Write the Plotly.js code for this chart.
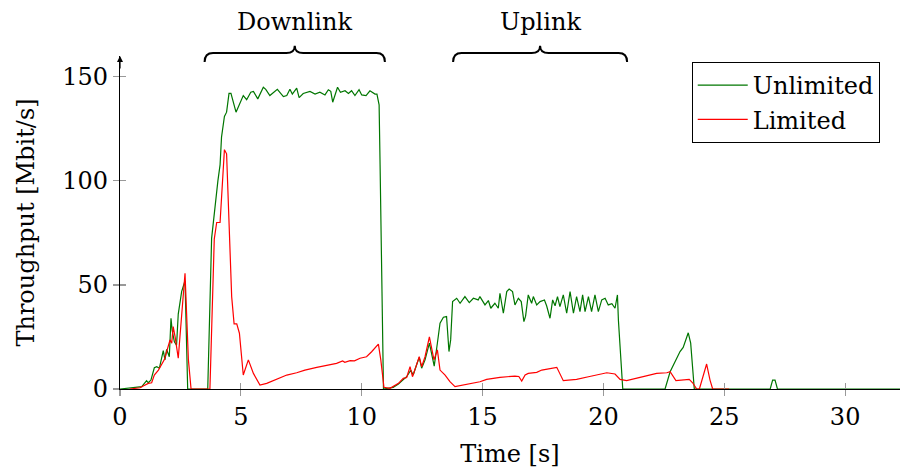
<!DOCTYPE html>
<html>
<head>
<meta charset="utf-8">
<script src="https://cdn.plot.ly/plotly-3.0.1.min.js"></script>
<style>html,body{margin:0;padding:0;background:#fff;}#chart{width:900px;height:470px;}</style>
</head>
<body>
<div id="chart"></div>
<script>
// ---- data ----
const seriesNames = ["Unlimited", "Limited"];

const unlimitedTime = [0, 0.62, 0.9, 1.1, 1.17, 1.28, 1.42, 1.52, 1.63, 1.79, 1.86, 1.93, 2.04, 2.11, 2.16, 2.25, 2.34, 2.41, 2.48, 2.55, 2.69, 2.8,
  3.63, 3.79, 4.05, 4.14, 4.2, 4.32, 4.41, 4.51, 4.59, 4.8, 5.1, 5.24, 5.41, 5.52, 5.7, 5.93, 6.03, 6.2, 6.51, 6.76, 6.9, 7.03, 7.13, 7.31, 7.41, 7.58, 7.86,
  8.07, 8.27, 8.48, 8.62, 8.72, 8.8, 9.0, 9.12, 9.31, 9.45, 9.58, 9.72, 9.89, 10.0, 10.18, 10.34, 10.45, 10.55, 10.63, 10.72, 10.76, 10.9,
  11.3, 11.52, 11.7, 11.86, 12.03, 12.13, 12.3, 12.38, 12.48, 12.62, 12.8, 12.9, 13.0, 13.13, 13.24, 13.38, 13.51, 13.61, 13.68, 13.76, 13.93,
  14.07, 14.27, 14.45, 14.62, 14.82, 14.89, 15.1, 15.24, 15.34, 15.51, 15.65, 15.72, 15.86, 16.0, 16.1, 16.24, 16.34, 16.48, 16.6, 16.71, 16.78,
  16.89, 17.03, 17.1, 17.24, 17.38, 17.56, 17.65, 17.79, 17.9, 18.0, 18.1, 18.2, 18.34, 18.48, 18.62, 18.76, 18.89, 19.03, 19.14, 19.24, 19.38,
  19.51, 19.65, 19.79, 19.93, 20.07, 20.2, 20.35, 20.48, 20.58, 20.62, 20.8,
  22.55, 22.76, 22.96, 23.17, 23.3, 23.42, 23.51, 23.61, 23.76, 26.9, 27.0, 27.1, 27.2, 32.3];
const unlimitedThroughput = [0, 0.6, 1.1, 4, 3, 4.3, 10.2, 10.7, 10, 18.4, 14, 19, 15.5, 34, 28, 22.7, 21, 36, 42.8, 46.8, 52, 0,
  0, 72.4, 100, 107.7, 121, 131, 133, 142, 142, 133, 141, 139, 142.6, 143, 139.4, 145, 144, 141, 144, 140.5, 141, 144, 141.7, 144.6, 140, 142, 143,
  141.7, 142.6, 141.3, 143.8, 143, 137.8, 145, 142.6, 143.3, 142, 143.3, 141, 143.8, 141.3, 141, 143.3, 142.5, 141.7, 141.7, 136.5, 107.7, 0,
  0.8, 2.4, 4.3, 5.9, 9, 6.7, 12.6, 15.2, 10, 14, 22, 16.3, 11, 22, 31.6, 34.5, 34.8, 18, 23.6, 42, 43.6,
  41.2, 44.4, 41.5, 43.6, 42.8, 44.4, 40.4, 42.5, 38.8, 41.2, 38.8, 46, 36.4, 46.8, 48, 46.8, 40.4, 43.6, 42, 32.4, 35,
  45.2, 41.2, 44.4, 40.4, 42, 42.8, 40, 34, 42.8, 40, 44.4, 39.6, 45.2, 36.4, 46.8, 36.4, 44.4, 37.2, 45.2, 37.2, 44.4,
  37.2, 45.2, 37.2, 42.8, 43.6, 40.4, 41, 38.8, 45.2, 33, 0,
  0, 8.3, 13, 18, 20, 23.6, 27, 22, 0, 0, 4.3, 4.3, 0, 0];

const limitedTime = [0.4, 0.83, 0.96, 1.17, 1.31, 1.42, 1.59, 1.72, 1.83, 1.93, 2.07, 2.14, 2.2, 2.28, 2.41, 2.48, 2.55, 2.62, 2.69, 2.83, 2.94,
  3.72, 3.9, 4.0, 4.14, 4.32, 4.41, 4.62, 4.72, 4.83, 4.94, 5.1, 5.31, 5.52, 5.79, 6.07, 6.48, 6.9, 7.31, 7.65, 8.14, 8.55, 8.96, 9.21, 9.3, 9.52,
  9.7, 9.93, 10.2, 10.41, 10.69, 10.79, 10.92, 11.17, 11.52, 11.72, 11.86, 12.0, 12.1, 12.25, 12.38, 12.48, 12.62, 12.8, 12.9, 12.99, 13.13,
  13.24, 13.45, 13.65, 13.86, 14.34, 14.89, 15.17, 15.72, 16.34, 16.5, 16.62, 16.76, 16.89, 17.24, 17.45, 17.79, 18.07, 18.34, 18.89, 19.38,
  19.72, 20.0, 20.14, 20.48, 20.69, 20.96, 21.51, 21.93, 22.2, 22.62, 22.76, 23.0, 23.24, 23.55, 23.69, 23.86, 23.97, 24.16, 24.27, 24.41, 24.52, 25.2];
const limitedThroughput = [0, 0.6, 1.4, 2.7, 3, 6.7, 9.1, 11.5, 14, 17.9, 23.6, 22, 30, 25, 14.8, 25, 36.4, 46, 55.6, 14, 0,
  0, 72, 80, 80, 115, 113, 44.4, 31.3, 31.3, 26.8, 6.7, 14, 7.5, 1.9, 2.7, 4.6, 6.7, 7.8, 9.1, 10.4, 11.5, 12.3, 13.5, 12.8, 13.6,
  13.5, 14.8, 15.5, 17.9, 21.6, 14, 0.8, 0.3, 2.7, 5.1, 5.5, 10.7, 5.9, 11, 15.5, 10.7, 15.5, 25, 18.8, 14, 18.8,
  9.1, 6.7, 3.5, 1.1, 2.2, 3.5, 4.6, 5.6, 6.2, 6, 3.8, 6.7, 7.5, 8, 9.1, 9.9, 10.4, 4, 4.6, 5.9,
  6.7, 7.5, 7.8, 7.2, 4.6, 4, 5.6, 6.7, 7.5, 7.8, 8.3, 4, 4.3, 4.6, 3, 0, 0, 8.3, 12, 4.3, 0, 0];

const xTicks = [0, 5, 10, 15, 20, 25, 30];
const yTicks = [0, 50, 100, 150];
const phaseLabels = ["Downlink", "Uplink"];
const phaseStart = [3.5, 13.78];
const phaseEnd = [10.96, 20.98];

// ---- styling ----
const FONT = "'DejaVu Serif', 'Liberation Serif', serif";
const FS = 24;
const xMax = 32.27, yMax = 160;

function brace(x1, x2) {
  const m = (x1 + x2) / 2, d = 0.35;
  const yl = 0.982, yb = 1.009, yt = 1.031;
  return `M ${x1},${yl} Q ${x1},${yb} ${x1 + d},${yb} L ${m - d},${yb} Q ${m},${yb} ${m},${yt} ` +
         `Q ${m},${yb} ${m + d},${yb} L ${x2 - d},${yb} Q ${x2},${yb} ${x2},${yl}`;
}

const traces = [
  {x: unlimitedTime, y: unlimitedThroughput, name: seriesNames[0], type: 'scatter', mode: 'lines',
   line: {color: 'rgb(0,118,0)', width: 1.2}},
  {x: limitedTime, y: limitedThroughput, name: seriesNames[1], type: 'scatter', mode: 'lines',
   line: {color: 'rgb(255,0,0)', width: 1.2}},
  {x: [], y: [], xaxis: 'x2', yaxis: 'y2', showlegend: false, hoverinfo: 'skip'}
];

const shapes = phaseLabels.map((_, i) => ({
  type: 'path', xref: 'x', yref: 'paper', path: brace(phaseStart[i], phaseEnd[i]),
  line: {color: 'black', width: 2}
}));

const annotations = phaseLabels.map((t, i) => ({
  text: t, xref: 'x', yref: 'paper', x: (phaseStart[i] + phaseEnd[i]) / 2, y: 1.102,
  showarrow: false, font: {family: FONT, size: FS, color: 'black'}, xanchor: 'center', yanchor: 'middle'
}));
annotations.push({
  x: 0, y: yMax, xref: 'x', yref: 'y', ax: 0, ay: 14, axref: 'pixel', ayref: 'pixel',
  showarrow: true, arrowhead: 2, arrowsize: 1, arrowwidth: 1.2, arrowcolor: 'black', text: '', standoff: 0
});

const axisCommon = {
  showgrid: false, zeroline: false, showline: true, linecolor: 'black', linewidth: 1.2,
  ticks: 'outside', ticklen: 6, tickcolor: '#999', tickwidth: 1.2,
  tickfont: {family: FONT, size: FS, color: 'black'}
};

const layout = {
  width: 900, height: 470,
  margin: {l: 120, r: 0, t: 56, b: 81},
  paper_bgcolor: 'white', plot_bgcolor: 'white',
  showlegend: true,
  xaxis: Object.assign({}, axisCommon, {
    range: [0, xMax], tickvals: xTicks, ticktext: xTicks.map(String),
    title: {text: 'Time [s]', font: {family: FONT, size: FS, color: 'black'}, standoff: 15}
  }),
  yaxis: Object.assign({}, axisCommon, {
    range: [0, yMax], tickvals: yTicks, ticktext: yTicks.map(String),
    title: {text: 'Throughput [Mbit/s]', font: {family: FONT, size: FS, color: 'black'}, standoff: 20}
  }),
  xaxis2: {overlaying: 'x', anchor: 'y2', range: [0, xMax], tickvals: xTicks, ticks: 'inside', ticklen: 6,
    tickcolor: '#999', tickwidth: 1.2, showticklabels: false, showgrid: false, zeroline: false, showline: false},
  yaxis2: {overlaying: 'y', anchor: 'x2', range: [0, yMax], tickvals: yTicks, ticks: 'inside', ticklen: 6,
    tickcolor: '#999', tickwidth: 1.2, showticklabels: false, showgrid: false, zeroline: false, showline: false},
  legend: {
    x: 0.733, y: 0.982, xanchor: 'left', yanchor: 'top',
    bordercolor: 'black', borderwidth: 1, bgcolor: 'white',
    font: {family: FONT, size: FS, color: 'black'}, itemwidth: 50, tracegroupgap: 0
  },
  shapes: shapes,
  annotations: annotations
};

Plotly.newPlot('chart', traces, layout, {staticPlot: true, displayModeBar: false});
</script>
</body>
</html>
